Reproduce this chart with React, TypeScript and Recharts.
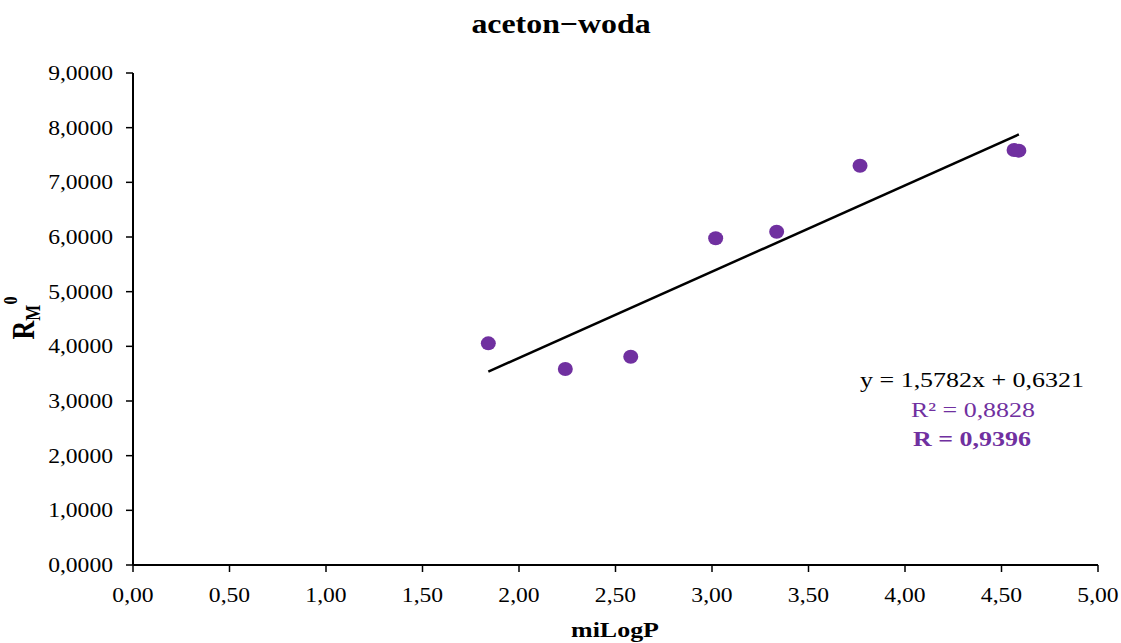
import React from 'react';
import {
    ScatterChart,
    Scatter,
    XAxis,
    YAxis,
    ReferenceLine,
} from 'recharts';

// miLogP vs RM0, aceton-woda
const miLogP = [1.841, 2.24, 2.579, 3.019, 3.335, 3.767, 4.565, 4.59];
const rm0 = [4.055, 3.585, 3.81, 5.976, 6.097, 7.304, 7.591, 7.58];

const xTicks = [0, 0.5, 1, 1.5, 2, 2.5, 3, 3.5, 4, 4.5, 5];
const yTicks = [0, 1, 2, 3, 4, 5, 6, 7, 8, 9];

// linear fit as printed on the chart
const slope = 1.5782;
const intercept = 0.6321;
const fitLabel = 'y = 1,5782x + 0,6321';
const r2Label = 'R² = 0,8828';
const rLabel = 'R = 0,9396';

const W = 1121;
const H = 643;
const FONT = '"Liberation Serif", "Times New Roman", serif';
const SX = 1.18; // text is drawn slightly wide
const PURPLE = '#7030A0';

const points = miLogP.map((x, i) => ({ x, y: rm0[i] }));
const xMin = Math.min(...miLogP);
const xMax = Math.max(...miLogP);
const trend = [
    { x: xMin, y: slope * xMin + intercept },
    { x: xMax, y: slope * xMax + intercept },
];

const comma = (v: number, d: number) => v.toFixed(d).replace('.', ',');

const YTick = ({ x, y, payload }: any) => (
    <text
        transform={`translate(${x},${y}) scale(${SX},1)`}
        textAnchor="end"
        dy={7}
        fontSize={20}
        fontFamily={FONT}
        fill="#000"
    >
        {comma(payload.value, 4)}
    </text>
);

const XTick = ({ x, y, payload }: any) => (
    <text
        transform={`translate(${x},${y}) scale(${SX},1)`}
        textAnchor="middle"
        dy={22}
        fontSize={20}
        fontFamily={FONT}
        fill="#000"
    >
        {comma(payload.value, 2)}
    </text>
);

const Dot = ({ cx, cy }: any) => (
    <ellipse cx={cx} cy={cy} rx={7.5} ry={7} fill={PURPLE} />
);

const stretched = (x: number, y: number) => `translate(${x},${y}) scale(${SX},1)`;

export default function App() {
    return (
        <div style={{ position: 'absolute', left: 0, top: 0, width: W, height: H, background: '#fff' }}>
            <ScatterChart
                width={W}
                height={H}
                margin={{ top: 73, right: 23, bottom: 38, left: 13 }}
            >
                <XAxis
                    type="number"
                    dataKey="x"
                    domain={[0, 5]}
                    ticks={xTicks}
                    interval={0}
                    height={40}
                    tickSize={7}
                    tickMargin={8}
                    tick={<XTick />}
                    axisLine={{ stroke: '#000', strokeWidth: 2 }}
                    tickLine={{ stroke: '#000', strokeWidth: 1.5 }}
                />
                <YAxis
                    type="number"
                    dataKey="y"
                    domain={[0, 9]}
                    ticks={yTicks}
                    interval={0}
                    width={120}
                    tickSize={7}
                    tickMargin={13}
                    tick={<YTick />}
                    axisLine={{ stroke: '#000', strokeWidth: 2 }}
                    tickLine={{ stroke: '#000', strokeWidth: 1.5 }}
                />
                <ReferenceLine
                    segment={trend}
                    stroke="#000"
                    strokeWidth={2.5}
                />
                <Scatter data={points} fill={PURPLE} shape={<Dot />} isAnimationActive={false} />
            </ScatterChart>

            <svg
                width={W}
                height={H}
                style={{ position: 'absolute', left: 0, top: 0, pointerEvents: 'none' }}
                fontFamily={FONT}
            >
                <text transform={stretched(561, 33)} textAnchor="middle" fontSize={27} fontWeight="bold">
                    aceton−woda
                </text>
                <text transform={stretched(615, 637)} textAnchor="middle" fontSize={22} fontWeight="bold">
                    miLogP
                </text>
                <text
                    transform={`translate(34,318) scale(${SX},1) rotate(-90)`}
                    textAnchor="middle"
                    fontWeight="bold"
                >
                    <tspan fontSize={26}>R</tspan>
                    <tspan fontSize={17} dy={5}>M</tspan>
                    <tspan fontSize={16} dy={-19}>0</tspan>
                </text>

                <text transform={stretched(972, 387)} textAnchor="middle" fontSize={22} fill="#000">
                    {fitLabel}
                </text>
                <text transform={stretched(973, 417)} textAnchor="middle" fontSize={22} fill={PURPLE}>
                    {r2Label}
                </text>
                <text transform={stretched(972, 446)} textAnchor="middle" fontSize={22} fontWeight="bold" fill={PURPLE}>
                    {rLabel}
                </text>
            </svg>
        </div>
    );
}
